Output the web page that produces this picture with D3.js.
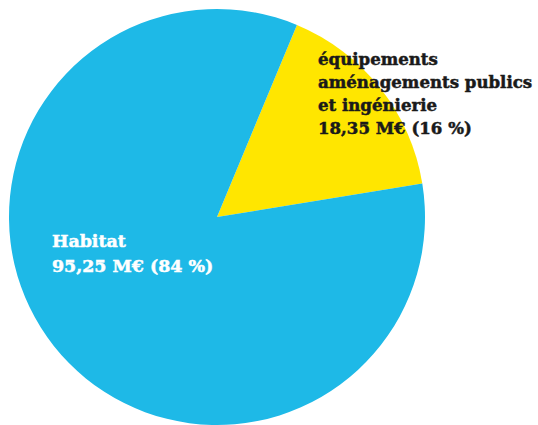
<!DOCTYPE html>
<html><head><meta charset="utf-8">
<script src="https://cdn.jsdelivr.net/npm/d3@7"></script>
<style>html,body{margin:0;padding:0;background:#fff;}</style>
</head><body>
<svg id="c" width="538" height="425"></svg>
<script>
const categories = ["équipements aménagements publics et ingénierie", "Habitat"];
const values = [18.35, 95.25];
const percents = [16, 84];
const colors = ["#FFE600", "#1EB9E7"];
const labelLines = [
  ["équipements", "aménagements publics", "et ingénierie", "18,35 M€ (16 %)"],
  ["Habitat", "95,25 M€ (84 %)"]
];

const svg = d3.select("#c");
const cx = 217, cy = 217, r = 208;
const start = 22.6 * Math.PI / 180;
const pie = d3.pie().sort(null).startAngle(start).endAngle(start + 2 * Math.PI);
const arc = d3.arc().innerRadius(0).outerRadius(r);
const g = svg.append("g").attr("transform", `translate(${cx},${cy})`);
g.selectAll("path").data(pie(values)).join("path")
  .attr("d", arc).attr("fill", (d, i) => colors[i]);

const font = "'DejaVu Serif', serif";
const labelPos = [
  {x: 318, y: 65, dy: 23, fill: "#1a1a1a", size: 16.6},
  {x: 52, y: 247, dy: 25, fill: "#ffffff", size: 17.4}
];
labelLines.forEach((lines, i) => {
  const p = labelPos[i];
  const t = svg.append("text").attr("font-family", font).attr("font-weight", "bold")
    .attr("font-size", p.size).attr("fill", p.fill)
    .attr("stroke", p.fill).attr("stroke-width", 0.5);
  lines.forEach((l, j) => {
    t.append("tspan").attr("x", p.x).attr("y", p.y + j * p.dy).text(l);
  });
});
</script>
</body></html>
